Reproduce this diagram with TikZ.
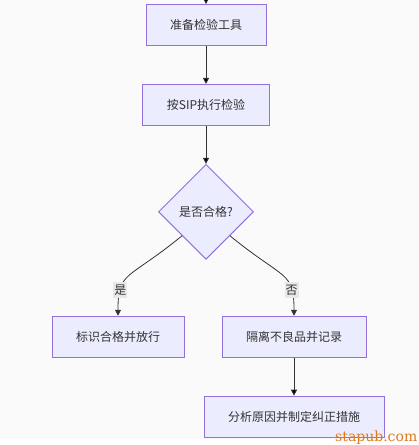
\documentclass[tikz,border=0pt]{standalone}
\usepackage{fontspec}
\newfontfamily\cjk{Noto Sans CJK SC}
\newfontfamily\markfont{DejaVu Serif}
\usetikzlibrary{arrows.meta,positioning,shapes.geometric}
\definecolor{boxfill}{HTML}{ECECFF}
\definecolor{boxline}{HTML}{9370DB}
\definecolor{ink}{HTML}{333333}
\definecolor{tagfill}{HTML}{E8E8E8}
\definecolor{bggray}{HTML}{FAFAFA}
\definecolor{wmark}{HTML}{DD7A1E}

\begin{document}
\begin{tikzpicture}[->,>={Triangle[length=6pt,width=6pt]},x=1pt,y=-1pt,
                    font=\cjk\fontsize{12}{14}\selectfont]
  \tikzstyle{stepbox}=[rectangle,draw=boxline,fill=boxfill,line width=0.9pt,
                       minimum height=41pt,inner xsep=24pt,text=ink]
  \tikzstyle{choice}=[diamond,aspect=1,draw=boxline,fill=boxfill,line width=0.9pt,
                      minimum size=95pt,inner sep=0pt,text=ink]
  \tikzstyle{tag}=[fill=tagfill,inner xsep=1pt,inner ysep=2.5pt,text=ink]
  \tikzstyle{link}=[draw=ink,line width=0.8pt]

  \fill[-,bggray] (0,0) rectangle (419,439);
  \fill[-,white] (0,439) rectangle (419,445);
  \useasboundingbox (0,0) rectangle (419,445);

  \coordinate (T) at (206,-10);                                     % from above
  \node[stepbox] (A) at (206,25)             {准备检验工具};
  \node[stepbox] (B) [below=38pt of A]       {按SIP执行检验};
  \node[choice]  (C) [below=38pt of B]       {是否合格?};           % check
  \node[stepbox] (D) [below=56pt of C,xshift=-88pt] {标识合格并放行};
  \node[stepbox] (E) [below=56pt of C,xshift=88pt]  {隔离不良品并记录};
  \node[stepbox] (F) [below=38pt of E]       {分析原因并制定纠正措施};
  \node[text=wmark,font=\markfont\fontsize{14}{14}\selectfont,anchor=base west,
        inner sep=0pt] (W) at (335,441.5) {stapub.com};

  \path[link] (T) edge (A)
        (A) edge (B)
        (B) edge (C)
        (E) edge (F);
  \draw[link] (C.south west) .. controls +(-55pt,-45pt) and +(0pt,45pt) ..
        node[tag,pos=0.74] (Y) {是} (D.north);
  \draw[link] (C.south east) .. controls +(55pt,-45pt) and +(0pt,45pt) ..
        node[tag,pos=0.74] (N) {否} (E.north);
\end{tikzpicture}
\end{document}
